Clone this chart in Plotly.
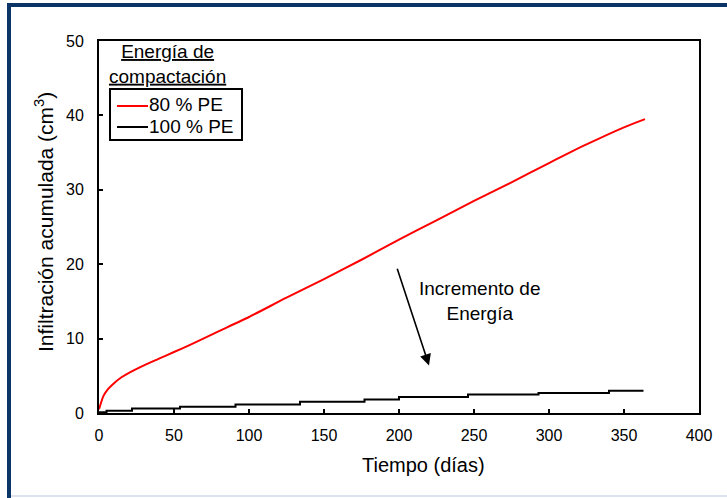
import plotly.graph_objects as go

# ---- data ----
t_80 = [0, 3, 6, 10, 15, 20, 30, 40, 50, 60, 80, 100, 125, 150, 175, 200,
        225, 250, 275, 300, 325, 350, 364]
inf_80 = [0.5, 2.3, 3.2, 4.0, 4.8, 5.4, 6.4, 7.3, 8.2, 9.1, 11.0, 12.9, 15.5,
          18.0, 20.6, 23.3, 25.9, 28.5, 31.0, 33.6, 36.1, 38.4, 39.5]

t_100 = [0, 5, 22, 54, 91, 134, 177, 200, 246, 293, 340, 363]
inf_100 = [0.1, 0.3, 0.6, 0.85, 1.15, 1.5, 1.8, 2.15, 2.5, 2.7, 3.0, 3.0]

x_ticks = [0, 50, 100, 150, 200, 250, 300, 350, 400]
y_ticks = [0, 10, 20, 30, 40, 50]

name_80 = "80 % PE"
name_100 = "100 % PE"
x_title = "Tiempo (días)"
y_title = "Infiltración acumulada (cm<sup>3</sup>)"
note_text = "Incremento de<br>Energía"

FONT = "Liberation Sans, Arial, sans-serif"
RED = "#ff0000"
BLACK = "#000000"

fig = go.Figure()
fig.add_trace(go.Scatter(x=t_80, y=inf_80, mode="lines", name=name_80, showlegend=False,
                         line=dict(color=RED, width=2, shape="spline", smoothing=0.6)))
fig.add_trace(go.Scatter(x=t_100, y=inf_100, mode="lines", name=name_100, showlegend=False,
                         line=dict(color=BLACK, width=2, shape="hv")))

axis_common = dict(showline=True, linecolor=BLACK, linewidth=2, mirror=True,
                   ticks="inside", ticklen=4, tickwidth=2, tickcolor=BLACK,
                   showgrid=False, zeroline=False,
                   tickfont=dict(family=FONT, size=16, color=BLACK))

fig.update_xaxes(range=[0, 400], tickvals=x_ticks, ticklabelstandoff=7, **axis_common)
fig.update_yaxes(range=[0, 50], tickvals=y_ticks, ticklabelstandoff=10, **axis_common)


def px_x(p):
    return (p - 99) / 600.0


def px_y(p):
    return (413 - p) / 372.0


# axis titles as annotations for exact placement
fig.add_annotation(text=x_title, xref="paper", yref="paper", x=0.54, y=-0.14,
                   xanchor="center", yanchor="middle", showarrow=False,
                   font=dict(family=FONT, size=20, color=BLACK))
fig.add_annotation(text=y_title, xref="paper", yref="paper", x=px_x(44), y=px_y(222),
                   xanchor="center", yanchor="middle", textangle=-90, showarrow=False,
                   font=dict(family=FONT, size=21, color=BLACK))

# ---- legend (drawn in paper space) ----
fig.add_annotation(text="<u>Energía de</u><br><u>compactación</u>", xref="paper", yref="paper",
                   x=px_x(167), y=1.006, xanchor="center", yanchor="top", showarrow=False,
                   align="center", font=dict(family=FONT, size=19, color=BLACK))
fig.add_shape(type="rect", xref="paper", yref="paper", x0=px_x(110), x1=px_x(242),
              y0=px_y(140), y1=px_y(89), line=dict(color=BLACK, width=2),
              fillcolor="#ffffff", layer="above")
for name, color, ypx in [(name_80, RED, 106), (name_100, BLACK, 127)]:
    fig.add_shape(type="line", xref="paper", yref="paper", x0=px_x(117), x1=px_x(148),
                  y0=px_y(ypx), y1=px_y(ypx), line=dict(color=color, width=2), layer="above")
    fig.add_annotation(text=name, xref="paper", yref="paper", x=px_x(147), y=px_y(ypx - 1),
                       xanchor="left", yanchor="middle", showarrow=False,
                       font=dict(family=FONT, size=19, color=BLACK))

# arrow annotation
fig.add_annotation(x=220, y=6.4, ax=198.5, ay=19.6, xref="x", yref="y", axref="x", ayref="y",
                   text="", showarrow=True, arrowhead=2, arrowsize=1.4, arrowwidth=1.6,
                   arrowcolor=BLACK)
fig.add_annotation(text=note_text, x=px_x(479), y=px_y(301), xref="paper", yref="paper",
                   xanchor="center", yanchor="middle", showarrow=False, align="center",
                   font=dict(family=FONT, size=19, color=BLACK))

# frame of the picture (dark blue top / left, faint bottom)
fig.add_shape(type="rect", xref="paper", yref="paper", x0=px_x(7), x1=px_x(727),
              y0=px_y(7), y1=px_y(3), fillcolor="#0b3566", line_width=0, layer="above")
fig.add_shape(type="rect", xref="paper", yref="paper", x0=px_x(7), x1=px_x(11),
              y0=px_y(498), y1=px_y(3), fillcolor="#0b3566", line_width=0, layer="above")
fig.add_shape(type="rect", xref="paper", yref="paper", x0=px_x(11), x1=px_x(727),
              y0=px_y(497), y1=px_y(495), fillcolor="#dde2ec", line_width=0, layer="above")

fig.update_layout(
    width=727, height=498,
    margin=dict(l=99, r=28, t=41, b=85),
    paper_bgcolor="#ffffff", plot_bgcolor="#ffffff",
    showlegend=False,
)

fig.write_html("out.html", config={"displayModeBar": False},
               post_script="document.body.style.margin='0';")
